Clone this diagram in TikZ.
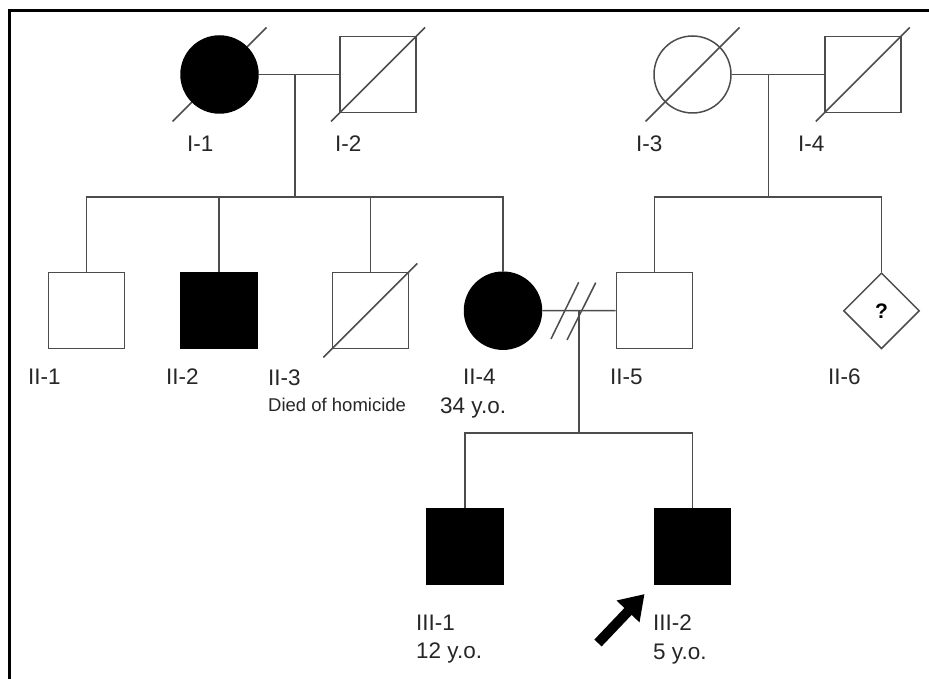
\documentclass[tikz,border=0pt]{standalone}
\usepackage{fontspec}
\setmainfont{Liberation Sans}
\usetikzlibrary{shapes.geometric,arrows.meta,calc,backgrounds}

\begin{document}
\begin{tikzpicture}[x=1pt,y=-1pt,
  link/.style={draw=black!70,line width=1.5pt},
  person/.style={draw=black!70,line width=1.5pt,inner sep=0pt,minimum size=76pt},
  male/.style={person,rectangle},
  female/.style={person,circle,minimum size=77pt},
  unknownsex/.style={person,diamond,aspect=1,minimum size=76pt},
  affected/.style={fill=black,draw=black},
  lbl/.style={anchor=base west,inner sep=0pt,text=black!85,font=\fontsize{22.5}{27}\selectfont},
  note/.style={anchor=base west,inner sep=0pt,text=black!85,font=\fontsize{18.5}{22}\selectfont},
  proband/.style={-{Triangle[length=24pt,width=30pt]},line width=10pt,draw=black},
]
\useasboundingbox (0,0) rectangle (929,679);
% frame: only its left and top sides fall inside the page
\draw[line width=2.7pt] (9.7,690) |- (940,10.7);

% generation I
\node[female,affected] (I1) at (219.5,74.5) {};
\node[male] (I2) at (378,74.5) {};
\node[female] (I3) at (692.5,74.5) {};
\node[male] (I4) at (862.8,74.5) {};

% generation II
\node[male] (II1) at (86.7,310.5) {};
\node[male,affected] (II2) at (219,310.5) {};
\node[male] (II3) at (370.3,310.5) {};
\node[female,affected] (II4) at (503,310.7) {};
\node[male] (II5) at (654.3,310.5) {};
\node[unknownsex,font=\bfseries\fontsize{21}{25}\selectfont] (II6) at (881.5,310.8) {?};

% generation III
\node[male,affected] (III1) at (465,546.3) {};
\node[male,affected] (III2) at (692.3,546.3) {};

% deceased marks, behind the symbols
\begin{scope}[on background layer]
\foreach \p in {I1,I2,I3,I4,II3}
  \draw[link] ($(\p.center)+(-47,47)$) -- ($(\p.center)+(47,-47)$);
\end{scope}

% couples and sibships
\coordinate (m12) at (295,74.5);
\coordinate (s12) at (295,197);
\draw[link] (I1.east) -- (I2.west);
\draw[link] (m12) -- (s12);
\draw[link] (II1.north) |- (II4.north |- s12) -- (II4.north);
\draw[link] (II2.north) -- (II2.north |- s12);
\draw[link] (II3.north) -- (II3.north |- s12);

\coordinate (m34) at (768.5,74.5);
\coordinate (s34) at (768.5,197);
\draw[link] (I3.east) -- (I4.west);
\draw[link] (m34) -- (s34);
\draw[link] (II5.north) |- (II6.north |- s34) -- (II6.north);

\coordinate (m45) at (579,310.5);
\coordinate (s45) at (579,433);
\draw[link] (II4.east) -- (II5.west);
\draw[link] (m45) -- (s45);
\draw[link] (III1.north) |- (III2.north |- s45) -- (III2.north);
% separation marks
\draw[link] ($(m45)+(-28,28.5)$) -- ($(m45)+(-0.3,-28.2)$);
\draw[link] ($(m45)+(-12,29.5)$) -- ($(m45)+(16.7,-27.8)$);

% proband arrow
\coordinate (pa) at (598,643);
\draw[proband] (pa) -- ($(III2.south west)+(-9,9)$);

% labels
\node[lbl] (lI1) at (187,152) {I-1};
\node[lbl] (lI2) at (335,152) {I-2};
\node[lbl] (lI3) at (636,152) {I-3};
\node[lbl] (lI4) at (798,152) {I-4};
\node[lbl] (lII1) at (28,384) {II-1};
\node[lbl] (lII2) at (166,384) {II-2};
\node[lbl] (lII3) at (268,385) {II-3};
\node[note] (nII3) at (268,411) {Died of homicide};
\node[lbl] (lII4) at (463,384) {II-4};
\node[lbl] (aII4) at (440,413) {34 y.o.};
\node[lbl] (lII5) at (610,384) {II-5};
\node[lbl] (lII6) at (828,384) {II-6};
\node[lbl] (lIII1) at (416,630) {III-1};
\node[lbl] (aIII1) at (416,658) {12 y.o.};
\node[lbl] (lIII2) at (653,630) {III-2};
\node[lbl] (aIII2) at (653,659) {5 y.o.};
\end{tikzpicture}
\end{document}
